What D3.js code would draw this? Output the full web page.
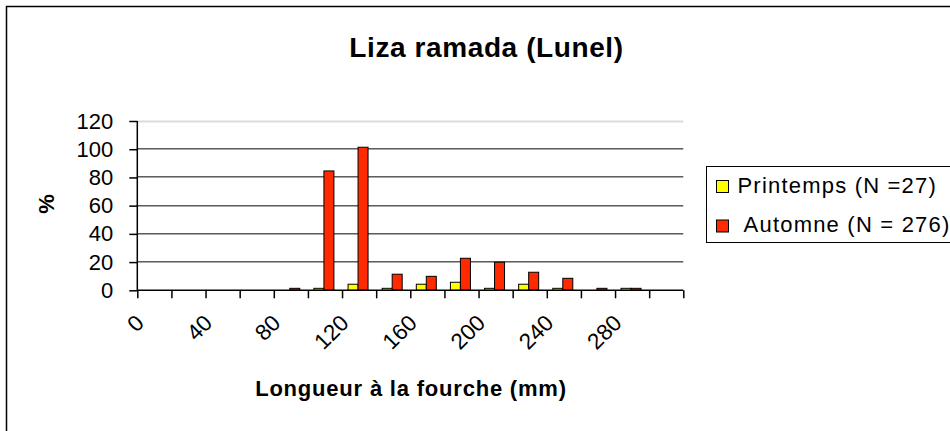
<!DOCTYPE html>
<html>
<head>
<meta charset="utf-8">
<script src="https://cdn.jsdelivr.net/npm/d3@7"></script>
<style>
  html, body { margin: 0; padding: 0; background: #fff; }
  svg { display: block; font-family: "Liberation Sans", Arial, sans-serif; }
</style>
</head>
<body>
<svg id="chart" width="950" height="431"></svg>
<script>
// Length classes (mm) and the percentage per class for each season
const categories = [0, 20, 40, 60, 80, 100, 120, 140, 160, 180, 200, 220, 240, 260, 280, 300];
const printemps  = [0, 0, 0, 0, 0, 1.4, 4.3, 1.4, 4.3, 5.7, 1.4, 4.3, 1.4, 0, 1.4, 0];
const automne    = [0, 0, 0, 0, 1.4, 84.6, 101.4, 11.4, 9.9, 22.7, 19.9, 12.8, 8.5, 1.4, 1.4, 0];
const seriesNames = ["Printemps (N =27)", " Automne (N = 276)"];
const seriesColors = ["#ffff00", "#ff2a00"];
const yTicks = [0, 20, 40, 60, 80, 100, 120];
const xTickLabels = ["0", "40", "80", "120", "160", "200", "240", "280"];

const svg = d3.select("#chart");

// Chart frame (runs off the right and bottom edges)
svg.append("rect")
  .attr("x", 6.5).attr("y", 6.5).attr("width", 1000).attr("height", 1000)
  .attr("fill", "#fff").attr("stroke", "#000").attr("stroke-width", 1.5);

const plotLeft = 137.3, plotRight = 683.3, plotTop = 121, plotBottom = 290.3;

const x = d3.scaleBand().domain(categories).range([plotLeft, plotRight]).padding(0);
const xs = d3.scaleBand().domain([0, 1]).range([6, 26]).padding(0);
const y = d3.scaleLinear().domain([0, 120]).range([plotBottom, plotTop]);

// Horizontal gridlines
const grid = svg.append("g");
yTicks.filter(v => v > 0).forEach(v => {
  const yy = Math.round(y(v));
  if (v === 120) {
    grid.append("line").attr("x1", plotLeft).attr("x2", plotRight)
      .attr("y1", yy + 0.5).attr("y2", yy + 0.5)
      .attr("stroke", "#dcdcdc").attr("stroke-width", 2);
  } else {
    grid.append("line").attr("x1", plotLeft).attr("x2", plotRight)
      .attr("y1", yy - 0.5).attr("y2", yy - 0.5)
      .attr("stroke", "#5e5e5e").attr("stroke-width", 1);
    grid.append("line").attr("x1", plotLeft).attr("x2", plotRight)
      .attr("y1", yy + 0.5).attr("y2", yy + 0.5)
      .attr("stroke", "#a8a8a8").attr("stroke-width", 1);
  }
});

// Bars
const seriesData = [printemps, automne];
seriesData.forEach((vals, si) => {
  svg.append("g").selectAll("rect")
    .data(categories.map((c, i) => ({ c, v: vals[i] })).filter(d => d.v > 0))
    .join("rect")
    .attr("x", d => x(d.c) + xs(si))
    .attr("y", d => y(d.v))
    .attr("width", xs.bandwidth())
    .attr("height", d => y(0) - y(d.v))
    .attr("fill", seriesColors[si])
    .attr("stroke", "#000")
    .attr("stroke-width", 1);
});

// Y axis
const yAxis = d3.axisLeft(y).tickValues(yTicks).tickSize(8).tickPadding(16);
const gy = svg.append("g").attr("transform", `translate(${plotLeft},0)`).call(yAxis);
gy.select(".domain").attr("stroke", "#000").attr("stroke-width", 1.5).attr("d", `M0,${plotTop}V${plotBottom}`);
gy.selectAll(".tick line").attr("stroke", "#000").attr("stroke-width", 1.5);
gy.selectAll(".tick text").attr("font-size", 22).attr("fill", "#000")
  .attr("font-family", "'Liberation Sans', Arial, sans-serif");

// X axis: ticks between categories
const xIdx = d3.scaleLinear().domain([0, categories.length]).range([plotLeft, plotRight]);
const xAxis = d3.axisBottom(xIdx).tickValues(d3.range(categories.length + 1)).tickSize(8).tickFormat("");
const gx = svg.append("g").attr("transform", `translate(0,${plotBottom})`).call(xAxis);
gx.select(".domain").attr("stroke", "#000").attr("stroke-width", 1.5).attr("d", `M${plotLeft},0H${plotRight}`);
gx.selectAll(".tick line").attr("stroke", "#000").attr("stroke-width", 1.5);

// Rotated category labels (every other class)
svg.append("g").selectAll("text")
  .data(xTickLabels)
  .join("text")
  .attr("transform", d => `translate(${x(+d) + x.bandwidth() / 2 - 9},${plotBottom + 34}) rotate(-45)`)
  .attr("text-anchor", "end")
  .attr("font-size", 22.5)
  .attr("fill", "#000")
  .text(d => d);

// Title
svg.append("text")
  .attr("x", 486.5).attr("y", 57)
  .attr("text-anchor", "middle")
  .attr("font-size", 28).attr("font-weight", "bold")
  .attr("letter-spacing", 0.6)
  .text("Liza ramada (Lunel)");

// Axis titles
svg.append("text")
  .attr("x", 411).attr("y", 396)
  .attr("text-anchor", "middle")
  .attr("font-size", 22).attr("font-weight", "bold")
  .attr("letter-spacing", 0.8)
  .text("Longueur à la fourche (mm)");

svg.append("text")
  .attr("transform", "translate(54,204) rotate(-90)")
  .attr("text-anchor", "middle")
  .attr("font-size", 22).attr("font-weight", "bold")
  .text("%");

// Legend
const lg = svg.append("g");
lg.append("rect").attr("x", 706.5).attr("y", 166.5).attr("width", 300).attr("height", 76)
  .attr("fill", "#fff").attr("stroke", "#000").attr("stroke-width", 1);
seriesNames.forEach((name, i) => {
  const yy = 180 + i * 39.5;
  lg.append("rect").attr("x", 716.5).attr("y", yy + 0.5).attr("width", 12).attr("height", 12)
    .attr("fill", seriesColors[i]).attr("stroke", "#000").attr("stroke-width", 1);
  lg.append("text").attr("x", 737.5).attr("y", yy + 12.5)
    .attr("font-size", 22).attr("letter-spacing", 1.2)
    .style("white-space", "pre")
    .text(name);
});
</script>
</body>
</html>
